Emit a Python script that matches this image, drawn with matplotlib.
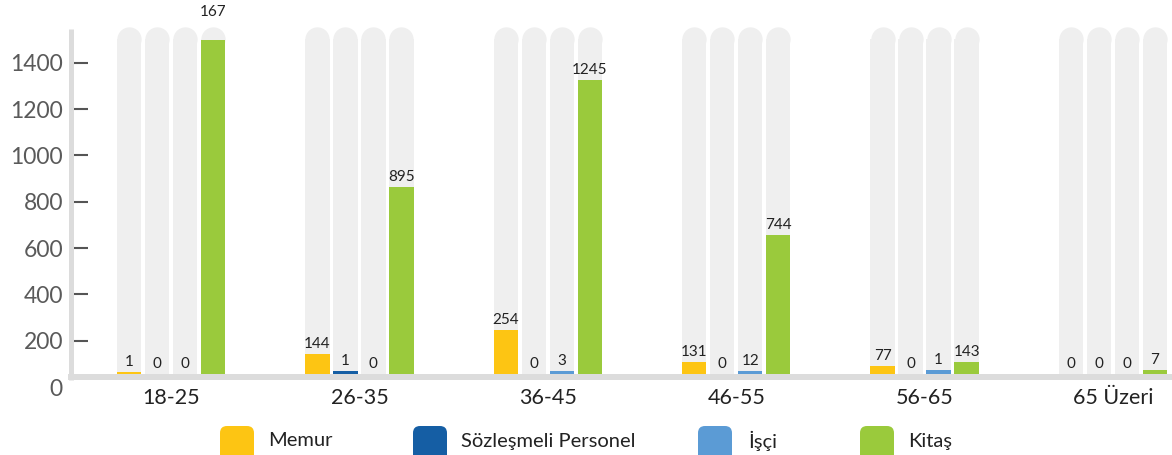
import matplotlib
matplotlib.use("Agg")
import matplotlib.pyplot as plt
import numpy as np
from matplotlib.patches import FancyBboxPatch
from matplotlib.transforms import IdentityTransform, blended_transform_factory

plt.rcParams['font.family'] = ['Lato', 'DejaVu Sans']

# ---------------- data ----------------
categories = ["18-25", "26-35", "36-45", "46-55", "56-65", "65 Üzeri"]
series = ["Memur", "Sözleşmeli Personel", "İşçi", "Kitaş"]
# drawn bar heights (above the bar baseline)
memur_h = [9, 86, 190, 52, 35, 0]
sozlesmeli_h = [0, 13, 0, 0, 0, 0]
isci_h = [0, 0, 13, 13, 17, 0]
kitas_h = [1442, 807, 1269, 600, 52, 17]
# printed value labels
memur_lbl = [1, 144, 254, 131, 77, 0]
sozlesmeli_lbl = [0, 1, 0, 0, 0, 0]
isci_lbl = [0, 0, 3, 12, 1, 0]
kitas_lbl = [167, 895, 1245, 744, 143, 7]
yticks = [0, 200, 400, 600, 800, 1000, 1200, 1400]

heights = [memur_h, sozlesmeli_h, isci_h, kitas_h]
labels = [memur_lbl, sozlesmeli_lbl, isci_lbl, kitas_lbl]
colors = ["#FDC513", "#155EA4", "#5B9BD5", "#9ACA3C"]

# ---------------- styling ----------------
W, H, DPI = 1172, 455, 100
fig = plt.figure(figsize=(W / DPI, H / DPI), dpi=DPI)
ax_left, ax_right = 70.5, 1172
ax_top, ax_bot = 20, 387
ax = fig.add_axes([ax_left / W, 1 - ax_bot / H, (ax_right - ax_left) / W, (ax_bot - ax_top) / H])

YMAX = 1585
ax.set_ylim(0, YMAX)
px_per_group = 188.4
ax.set_xlim(-(171 - ax_left) / px_per_group, 5 + (1172 - 1113) / px_per_group)

BASE = 56          # bar baseline (data units)
TRACK_TOP = 1554   # top of grey tracks
bar_w = 0.13
step = 0.1486
track_color = "#EFEFEF"

for s in ax.spines.values():
    s.set_visible(False)

# grey axis lines
trans_ax_x = blended_transform_factory(ax.transAxes, ax.transData)
ax.plot([0, 0], [30, 1546], transform=trans_ax_x, color="#DCDCDC", lw=3.6,
        solid_capstyle="butt", clip_on=False, zorder=5)
ax.plot([-0.0022, 1], [43, 43], transform=trans_ax_x, color="#DCDCDC", lw=4.3,
        solid_capstyle="butt", clip_on=False, zorder=1)

x = np.arange(len(categories))
unit_px = (ax_bot - ax_top) / YMAX  # pixels per data unit
r_px = 24.3 / 2
cap_center = TRACK_TOP - r_px / unit_px

for k, (h, lbl, c) in enumerate(zip(heights, labels, colors)):
    xs = x + (k - 1.5) * step
    # tracks
    ax.bar(xs, cap_center - BASE, bottom=BASE, width=bar_w, color=track_color, zorder=2, lw=0)
    ax.plot(xs, [cap_center] * len(xs), 'o', ms=24.3 * 72 / DPI, color=track_color,
            mec="none", zorder=2)
    # values
    ax.bar(xs, h, bottom=BASE, width=bar_w, color=c, zorder=3, lw=0)
    for xi, hi, li in zip(xs, h, lbl):
        top = BASE + hi
        if top > cap_center - 40:
            y = TRACK_TOP + 8 / unit_px
        else:
            y = top + 3 / unit_px
        ax.text(xi, y, str(li), ha="center", va="bottom", fontsize=11,
                color="#222222", zorder=6)

ax.set_yticks(yticks)
ax.set_yticklabels([str(t) for t in yticks])
ax.tick_params(axis="y", direction="in", length=12, width=1.5, color="#555555",
               pad=5.4, labelsize=16.5, labelcolor="#5a5a5a")
ax.yaxis.get_major_ticks()[0].tick1line.set_visible(False)

ax.set_xticks(x)
ax.set_xticklabels(categories)
ax.tick_params(axis="x", length=0, pad=1, labelsize=15.5, labelcolor="#222222")

# legend
leg_sw_x = [220, 413, 698, 860]
leg_txt_x = [268, 461, 748, 908]
for sx, tx, name, c in zip(leg_sw_x, leg_txt_x, series, colors):
    p = FancyBboxPatch((sx + 7, -20 + 7), 34 - 14, 49 - 14,
                       boxstyle="round,pad=7", transform=IdentityTransform(),
                       facecolor=c, edgecolor="none")
    fig.patches.append(p)
    fig.text(tx / W, 1 - 441 / H, name, ha="left", va="center", fontsize=14.5,
             color="#222222")

fig.savefig("out.png", dpi=DPI)
